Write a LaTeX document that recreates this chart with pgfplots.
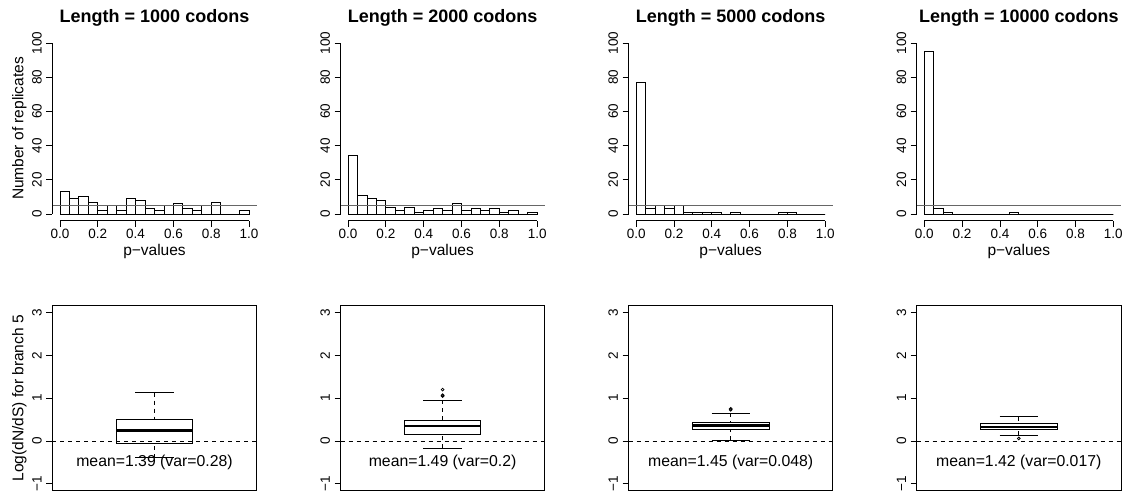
\documentclass[border=0pt]{standalone}
\usepackage{fontspec}
\setmainfont{Liberation Sans}
\usepackage{pgfplots}
\pgfplotsset{compat=1.18}
\usepgfplotslibrary{statistics}

\tikzset{meantext/.style={font=\fontsize{15.8bp}{18bp}\selectfont}}
\pgfplotsset{
  base/.style={
    scale only axis, anchor=south west, width=204.2bp, clip=false,
    tick align=outside, major tick length=6bp,
    tick style={black, line width=0.8bp},
    tick label style={font=\fontsize{13.5bp}{16bp}\selectfont},
    yticklabel style={rotate=90, anchor=base},
    yticklabel shift=4.7bp,
    every axis title/.style={at={(0.5,1)}, anchor=base, yshift=13.5bp,
      font=\bfseries\fontsize{18bp}{21bp}\selectfont},
    every axis y label/.style={at={(axis description cs:-0.1425,0.5)}, rotate=90,
      anchor=base, font=\fontsize{15.5bp}{18bp}\selectfont},
    every axis x label/.style={at={(axis description cs:0.5,0)}, anchor=base,
      yshift=-35bp, font=\fontsize{15.5bp}{18bp}\selectfont},
  },
  hist/.style={base, height=184.6bp,
    xmin=-0.04, xmax=1.04, ymin=-4, ymax=104,
    axis line style={draw=none}, tick pos=left,
    xtick={0,0.2,0.4,0.6,0.8,1}, xticklabels={0.0,0.2,0.4,0.6,0.8,1.0},
    ytick={0,20,40,60,80,100}, yticklabels={0,20,40,60,80,100},
    xticklabel style={anchor=base}, xticklabel shift=12.2bp,
    xlabel={p−values}},
  bxp/.style={base, height=185bp,
    xmin=0.5, xmax=1.5, ymin=-1.16, ymax=3.16,
    axis line style={line width=0.8bp}, xtick=\empty, ytick pos=left,
    ytick={-1,0,1,2,3}, yticklabels={−1,0,1,2,3}},
  bars/.style={ybar interval, fill=white, draw=black, line width=0.8bp},
  five/.style={black!60, line width=0.8bp},
  boxplot/every median/.style={line width=2.4bp},
  boxplot/draw/lower whisker/.code={%
    \draw[dash pattern=on 4bp off 4bp]
      (boxplot cs:\pgfplotsboxplotvalue{lower whisker}) --
      (boxplot cs:\pgfplotsboxplotvalue{lower quartile});
    \draw (boxplot whisker cs:\pgfplotsboxplotvalue{lower whisker},0) --
      (boxplot whisker cs:\pgfplotsboxplotvalue{lower whisker},1);
  },
  boxplot/draw/upper whisker/.code={%
    \draw[dash pattern=on 4bp off 4bp]
      (boxplot cs:\pgfplotsboxplotvalue{upper whisker}) --
      (boxplot cs:\pgfplotsboxplotvalue{upper quartile});
    \draw (boxplot whisker cs:\pgfplotsboxplotvalue{upper whisker},0) --
      (boxplot whisker cs:\pgfplotsboxplotvalue{upper whisker},1);
  },
  bx/.style={black, line width=0.8bp, mark=o, mark size=1.4bp,
    mark options={solid, line width=0.8bp}, boxplot/draw direction=y},
  zero/.style={black, line width=0.8bp, dash pattern=on 4bp off 4bp},
}

\begin{document}
\begin{tikzpicture}
\useasboundingbox (0,0) rectangle (1127bp,496bp);

% ---- top row: histograms of p-values
\begin{axis}[hist, at={(52.4bp,275.2bp)}, title={Length = 1000 codons},
  ylabel={Number of replicates}]
\addplot[bars] coordinates {(0,13) (0.05,9) (0.1,10) (0.15,7) (0.2,2) (0.25,5)
  (0.3,2) (0.35,9) (0.4,8) (0.45,3) (0.5,2) (0.55,5) (0.6,6) (0.65,3) (0.7,2)
  (0.75,5) (0.8,7) (0.85,0) (0.9,0) (0.95,2) (1,2)};
\addplot[five] coordinates {(-0.04,5) (1.04,5)};
\draw[line width=0.8bp] (axis cs:0,-4) -- (axis cs:1,-4);
\draw[line width=0.8bp] (axis cs:-0.04,0) -- (axis cs:-0.04,100);
\end{axis}

\begin{axis}[hist, at={(340.5bp,275.2bp)}, title={Length = 2000 codons}]
\addplot[bars] coordinates {(0,34) (0.05,11) (0.1,9) (0.15,8) (0.2,4) (0.25,2)
  (0.3,4) (0.35,1) (0.4,2) (0.45,3) (0.5,2) (0.55,6) (0.6,2) (0.65,3) (0.7,2)
  (0.75,3) (0.8,1) (0.85,2) (0.9,0) (0.95,1) (1,1)};
\addplot[five] coordinates {(-0.04,5) (1.04,5)};
\draw[line width=0.8bp] (axis cs:0,-4) -- (axis cs:1,-4);
\draw[line width=0.8bp] (axis cs:-0.04,0) -- (axis cs:-0.04,100);
\end{axis}

\begin{axis}[hist, at={(628.6bp,275.2bp)}, title={Length = 5000 codons}]
\addplot[bars] coordinates {(0,77) (0.05,3) (0.1,5) (0.15,3) (0.2,5) (0.25,1)
  (0.3,1) (0.35,1) (0.4,1) (0.45,0) (0.5,1) (0.55,0) (0.6,0) (0.65,0) (0.7,0)
  (0.75,1) (0.8,1) (0.85,0) (0.9,0) (0.95,0) (1,0)};
\addplot[five] coordinates {(-0.04,5) (1.04,5)};
\draw[line width=0.8bp] (axis cs:0,-4) -- (axis cs:1,-4);
\draw[line width=0.8bp] (axis cs:-0.04,0) -- (axis cs:-0.04,100);
\end{axis}

\begin{axis}[hist, at={(916.7bp,275.2bp)}, title={Length = 10000 codons}]
\addplot[bars] coordinates {(0,95) (0.05,3) (0.1,1) (0.15,0) (0.2,0) (0.25,0)
  (0.3,0) (0.35,0) (0.4,0) (0.45,1) (0.5,0) (0.55,0) (0.6,0) (0.65,0) (0.7,0)
  (0.75,0) (0.8,0) (0.85,0) (0.9,0) (0.95,0) (1,0)};
\addplot[five] coordinates {(-0.04,5) (1.04,5)};
\draw[line width=0.8bp] (axis cs:0,-4) -- (axis cs:1,-4);
\draw[line width=0.8bp] (axis cs:-0.04,0) -- (axis cs:-0.04,100);
\end{axis}

% ---- bottom row: boxplots of log(dN/dS)
\begin{axis}[bxp, at={(52.4bp,5.3bp)}, ylabel={Log(dN/dS) for branch 5}]
\addplot[zero] coordinates {(0.5,0) (1.5,0)};
\addplot[bx, boxplot prepared={draw position=1, box extend=0.375,
  whisker extend=0.1875, lower whisker=-0.39, lower quartile=-0.06,
  median=0.25, upper quartile=0.5, upper whisker=1.13}] coordinates {};
\node[meantext] at (axis cs:1,-0.5) {mean=1.39 (var=0.28)};
\end{axis}

\begin{axis}[bxp, at={(340.5bp,5.3bp)}]
\addplot[zero] coordinates {(0.5,0) (1.5,0)};
\addplot[bx, boxplot prepared={draw position=1, box extend=0.375,
  whisker extend=0.1875, lower whisker=-0.17, lower quartile=0.16,
  median=0.35, upper quartile=0.49, upper whisker=0.95}]
  coordinates {(0,1.2) (0,1.07) (0,1.05)};
\node[meantext] at (axis cs:1,-0.5) {mean=1.49 (var=0.2)};
\end{axis}

\begin{axis}[bxp, at={(628.6bp,5.3bp)}]
\addplot[zero] coordinates {(0.5,0) (1.5,0)};
\addplot[bx, boxplot prepared={draw position=1, box extend=0.375,
  whisker extend=0.1875, lower whisker=0.02, lower quartile=0.27,
  median=0.36, upper quartile=0.44, upper whisker=0.65}]
  coordinates {(0,0.75) (0,0.73)};
\node[meantext] at (axis cs:1,-0.5) {mean=1.45 (var=0.048)};
\end{axis}

\begin{axis}[bxp, at={(916.7bp,5.3bp)}]
\addplot[zero] coordinates {(0.5,0) (1.5,0)};
\addplot[bx, boxplot prepared={draw position=1, box extend=0.375,
  whisker extend=0.1875, lower whisker=0.13, lower quartile=0.28,
  median=0.33, upper quartile=0.4, upper whisker=0.57}]
  coordinates {(0,0.06)};
\node[meantext] at (axis cs:1,-0.5) {mean=1.42 (var=0.017)};
\end{axis}
\end{tikzpicture}
\end{document}
